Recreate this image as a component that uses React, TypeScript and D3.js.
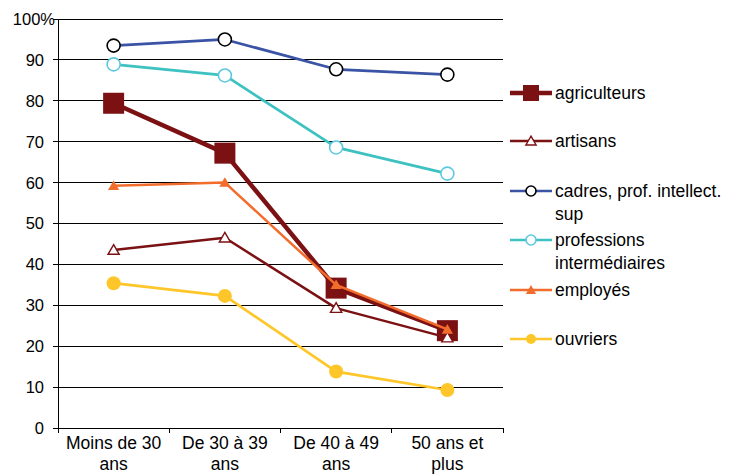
import React, { useEffect, useRef } from 'react';
import * as d3 from 'd3';

const categories = ['Moins de 30|ans', 'De 30 à 39|ans', 'De 40 à 49|ans', '50 ans et|plus'];
const yTicks = [0, 10, 20, 30, 40, 50, 60, 70, 80, 90, 100];

const agriculteurs = [79.4, 67.2, 34.2, 23.8];
const artisans = [43.5, 46.5, 29.3, 22.1];
const cadres = [93.5, 95.0, 87.7, 86.4];
const professions = [88.9, 86.2, 68.6, 62.2];
const employes = [59.2, 60.0, 35.0, 24.1];
const ouvriers = [35.4, 32.3, 13.8, 9.3];

type Marker = 'square' | 'triangle' | 'circle';

interface Series {
  name: string[];
  values: number[];
  color: string;
  width: number;
  marker: Marker;
  size: number;
  fill: string;
  stroke: string;
}

const series: Series[] = [
  { name: ['agriculteurs'], values: agriculteurs, color: '#7b1113', width: 4.5, marker: 'square', size: 21, fill: '#7b1113', stroke: '#7b1113' },
  { name: ['artisans'], values: artisans, color: '#7b1113', width: 2.5, marker: 'triangle', size: 11, fill: '#ffffff', stroke: '#7b1113' },
  { name: ['cadres, prof. intellect.', 'sup'], values: cadres, color: '#3a53a4', width: 2.7, marker: 'circle', size: 13, fill: '#ffffff', stroke: '#000000' },
  { name: ['professions', 'intermédiaires'], values: professions, color: '#3ec1c1', width: 2.7, marker: 'circle', size: 13, fill: '#ffffff', stroke: '#5bc8e0' },
  { name: ['employés'], values: employes, color: '#f26c2b', width: 2.5, marker: 'triangle', size: 11, fill: '#f26c2b', stroke: '#f26c2b' },
  { name: ['ouvriers'], values: ouvriers, color: '#ffc629', width: 2.7, marker: 'circle', size: 14, fill: '#ffc629', stroke: '#ffc629' },
];

const legendY = [93, 141, 191, 240, 290, 339];

export default function App() {
  const svgRef = useRef<SVGSVGElement>(null);

  useEffect(() => {
    if (!svgRef.current) return;
    const width = 735;
    const height = 474;
    const left = 58;
    const right = 503;
    const top = 19;
    const bottom = 428;

    d3.select(svgRef.current).selectAll('*').remove();
    const svg = d3.select(svgRef.current)
      .attr('width', width)
      .attr('height', height)
      .style('display', 'block')
      .style('font-family', '"Liberation Sans", Arial, sans-serif');

    const x = d3.scaleBand().domain(categories).range([left, right]);
    const y = d3.scaleLinear().domain([0, 100]).range([bottom, top]);

    // Grid lines
    svg.append('g')
      .selectAll('line')
      .data(yTicks)
      .enter()
      .append('line')
      .attr('x1', left)
      .attr('x2', right)
      .attr('y1', d => y(d))
      .attr('y2', d => y(d))
      .attr('stroke', '#000')
      .attr('stroke-width', 1)
      .attr('shape-rendering', 'crispEdges');

    // Y axis
    svg.append('line')
      .attr('x1', left).attr('x2', left)
      .attr('y1', top).attr('y2', bottom)
      .attr('stroke', '#000')
      .attr('shape-rendering', 'crispEdges');

    svg.append('g')
      .selectAll('line')
      .data(yTicks)
      .enter()
      .append('line')
      .attr('x1', left - 5)
      .attr('x2', left)
      .attr('y1', d => y(d))
      .attr('y2', d => y(d))
      .attr('stroke', '#000')
      .attr('shape-rendering', 'crispEdges');

    svg.append('g')
      .selectAll('text')
      .data(yTicks)
      .enter()
      .append('text')
      .attr('x', d => (d === 100 ? 55 : 44))
      .attr('y', d => y(d))
      .attr('dy', '0.36em')
      .attr('text-anchor', 'end')
      .style('font-size', '16.5px')
      .attr('fill', '#000')
      .text(d => (d === 100 ? '100%' : String(d)));

    // X axis ticks
    const bounds = categories.map(c => x(c) as number).concat([right]);
    svg.append('g')
      .selectAll('line')
      .data(bounds)
      .enter()
      .append('line')
      .attr('x1', d => d)
      .attr('x2', d => d)
      .attr('y1', bottom)
      .attr('y2', bottom + 5)
      .attr('stroke', '#000')
      .attr('shape-rendering', 'crispEdges');

    const xl = svg.append('g')
      .selectAll('text')
      .data(categories)
      .enter()
      .append('text')
      .attr('text-anchor', 'middle')
      .style('font-size', '17.5px')
      .attr('fill', '#000');
    xl.each(function (d) {
      const cx = (x(d) as number) + x.bandwidth() / 2;
      d3.select(this).selectAll('tspan')
        .data(d.split('|'))
        .enter()
        .append('tspan')
        .attr('x', cx)
        .attr('y', (_, i) => bottom + 21 + i * 21)
        .text(t => t);
    });

    const cxOf = (i: number) => (x(categories[i]) as number) + x.bandwidth() / 2;

    const drawMarker = (g: any, s: Series, cx: number, cy: number) => {
      if (s.marker === 'square') {
        g.append('rect')
          .attr('x', cx - s.size / 2).attr('y', cy - s.size / 2)
          .attr('width', s.size).attr('height', s.size)
          .attr('fill', s.fill);
      } else if (s.marker === 'circle') {
        g.append('circle')
          .attr('cx', cx).attr('cy', cy).attr('r', s.size / 2)
          .attr('fill', s.fill)
          .attr('stroke', s.stroke)
          .attr('stroke-width', s.fill === s.stroke ? 0 : 1.6);
      } else {
        const sym = d3.symbol().type(d3.symbolTriangle).size(s.size * s.size * 0.45);
        g.append('path')
          .attr('d', sym() as string)
          .attr('transform', `translate(${cx},${cy + 1})`)
          .attr('fill', s.fill)
          .attr('stroke', s.stroke)
          .attr('stroke-width', s.fill === s.stroke ? 0 : 1.4);
      }
    };

    const line = d3.line<number>()
      .x((_, i) => cxOf(i))
      .y(d => y(d));

    series.forEach(s => {
      const g = svg.append('g');
      g.append('path')
        .attr('d', line(s.values) as string)
        .attr('fill', 'none')
        .attr('stroke', s.color)
        .attr('stroke-width', s.width)
        .attr('stroke-linejoin', 'round');
      s.values.forEach((v, i) => drawMarker(g, s, cxOf(i), y(v)));
    });

    // Legend
    series.forEach((s, k) => {
      const ly = legendY[k];
      const g = svg.append('g');
      g.append('line')
        .attr('x1', 510).attr('x2', 552)
        .attr('y1', ly).attr('y2', ly)
        .attr('stroke', s.color)
        .attr('stroke-width', s.width);
      drawMarker(g, { ...s, size: s.marker === 'square' ? 16 : 10 }, 531, ly);
      const t = g.append('text')
        .attr('x', 555)
        .style('font-size', '17.5px')
        .attr('fill', '#000');
      s.name.forEach((n, i) => {
        t.append('tspan')
          .attr('x', 555)
          .attr('y', ly + i * 23)
          .attr('dy', '0.36em')
          .text(n);
      });
    });
  }, []);

  return (
    <div style={{ position: 'fixed', left: 0, top: 0, width: 735, height: 474, overflow: 'hidden', background: '#fff' }}>
      <svg ref={svgRef}></svg>
    </div>
  );
}
